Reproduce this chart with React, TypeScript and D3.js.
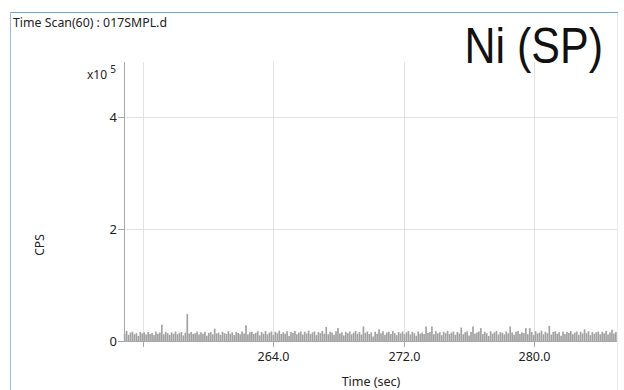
import React, { useEffect, useRef } from "react";
import * as d3 from "d3";

// time axis
const timeStart = 254.9;
const timeStep = 0.12;
const xTicks = [256, 264, 272, 280];
const xTickLabels = ["", "264.0", "272.0", "280.0"];
const yTicks = [0, 2e5, 4e5];
const yTickLabels = ["0", "2", "4"];

// counts per second, one per sweep
const cps = [
  13000, 18000, 11000, 15000, 16500, 12000, 14000, 9000, 16000, 13500, 15500, 11500,
  16000, 12500, 14500, 10500, 17000, 13000, 15000, 29000, 12000, 16500, 14000, 11000,
  15500, 13000, 17000, 12000, 14500, 16000, 10000, 15000, 48000, 13500, 16000, 12500,
  14000, 17000, 11500, 15500, 13000, 16500, 9500, 14500, 16000, 12000, 22000, 13500,
  15000, 11000, 16500, 14000, 12500, 17500, 13000, 15500, 10500, 16000, 14500, 12000,
  17000, 13500, 28000, 11500, 15500, 16500, 12500, 14500, 17500, 10000, 16000, 13000,
  18000, 12000, 15000, 17000, 11000, 16500, 14000, 18500, 12500, 15500, 13000, 17500,
  9000, 16000, 14500, 18000, 12000, 15000, 17000, 11500, 16500, 13500, 18500, 12500,
  15500, 17000, 10500, 16000, 14000, 18000, 13000, 25000, 12000, 16500, 15000, 11000,
  17500, 23000, 13500, 15500, 10000, 16500, 14000, 17000, 12000, 15000, 18000, 13000,
  16000, 11500, 26000, 14500, 17000, 12500, 15500, 8000, 16500, 13000, 21000, 14000,
  17500, 11000, 15000, 16500, 12500, 18000, 14000, 10500, 16000, 13500, 17000, 12000,
  15500, 18000, 11500, 16500, 14000, 9500, 17000, 13000, 15000, 12500, 26000, 14500,
  16000, 26000, 12000, 17500, 13500, 15500, 10500, 16500, 14000, 18000, 12500, 15000,
  17000, 11000, 16000, 13500, 24000, 12000, 15500, 17500, 10000, 16000, 26000, 13000,
  15000, 17000, 23000, 12500, 16500, 14000, 9000, 17500, 13000, 15500, 18000, 11500,
  16000, 14500, 12000, 17000, 13500, 26000, 15000, 11000, 16500, 18000, 12500, 15500,
  14000, 23000, 12000, 23000, 16000, 10500, 17500, 13500, 15000, 18500, 12000, 16500,
  14000, 27000, 11500, 16000, 17500, 13000, 15500, 9500, 17000, 12500, 16000, 14500,
  18000, 12000, 15000, 17000, 11000, 16500, 13500, 21000, 14000, 17500, 10500, 16000,
  13000, 15500, 17000, 12000, 16500, 14000, 18000, 11500, 15000, 20000, 13500, 16000,
];

const font = "'Noto Sans', 'Open Sans', sans-serif";

function App() {
  const ref = useRef<SVGSVGElement>(null);

  useEffect(() => {
    const width = 624;
    const height = 390;
    const left = 124;
    const right = 617;
    const top = 62;
    const bottom = 341;

    const svg = d3.select(ref.current);
    svg.selectAll("*").remove();
    svg.attr("width", width).attr("height", height);

    const data = cps.map((v, i) => ({ t: timeStart + i * timeStep, v }));

    const x = d3.scaleLinear().domain([254.86, 285.09]).range([left, right]);
    const y = d3.scaleLinear().domain([0, 4.98e5]).range([bottom, top]);

    // frame
    svg.append("line").attr("x1", 10).attr("x2", 618).attr("y1", 12.5).attr("y2", 12.5)
      .attr("stroke", "#6fa3d8").attr("stroke-width", 1);
    svg.append("line").attr("x1", 10.5).attr("x2", 10.5).attr("y1", 12).attr("y2", height)
      .attr("stroke", "#9dbde0").attr("stroke-width", 1);
    svg.append("line").attr("x1", 617.5).attr("x2", 617.5).attr("y1", 13).attr("y2", height)
      .attr("stroke", "#ececec").attr("stroke-width", 1);

    svg.append("text").attr("x", 13).attr("y", 27)
      .attr("font-family", font).attr("font-size", 12).attr("fill", "#222")
      .attr("textLength", 154).attr("lengthAdjust", "spacingAndGlyphs")
      .text("Time Scan(60) : 017SMPL.d");

    svg.append("text").attr("transform", "translate(603,63) scale(0.86,1)")
      .attr("text-anchor", "end")
      .attr("font-family", "'Liberation Sans', Arial, sans-serif").attr("font-size", 50).attr("fill", "#111")
      .text("Ni (SP)");

    // grid
    const grid = svg.append("g").attr("stroke", "#e2e2e2").attr("stroke-width", 1);
    grid.selectAll("line.v").data(xTicks).enter().append("line")
      .attr("x1", (d) => Math.round(x(d)) + 0.5).attr("x2", (d) => Math.round(x(d)) + 0.5)
      .attr("y1", top).attr("y2", bottom);
    grid.selectAll("line.h").data(yTicks.filter((d) => d > 0)).enter().append("line")
      .attr("x1", left).attr("x2", right)
      .attr("y1", (d) => Math.round(y(d)) + 0.5).attr("y2", (d) => Math.round(y(d)) + 0.5);

    // signal
    svg.append("g").selectAll("line").data(data).enter().append("line")
      .attr("x1", (d) => x(d.t)).attr("x2", (d) => x(d.t))
      .attr("y1", y(0)).attr("y2", (d) => y(d.v))
      .attr("stroke", "#a2a2a2").attr("stroke-width", 1.7);

    // axes
    const axisColor = "#a8a8a8";
    svg.append("line").attr("x1", left + 0.5).attr("x2", left + 0.5).attr("y1", top).attr("y2", bottom)
      .attr("stroke", axisColor);
    svg.append("line").attr("x1", left).attr("x2", right).attr("y1", bottom + 0.5).attr("y2", bottom + 0.5)
      .attr("stroke", axisColor);

    const yt = svg.append("g").selectAll("g").data(yTicks).enter().append("g")
      .attr("transform", (d) => `translate(0,${Math.round(y(d)) + 0.5})`);
    yt.append("line").attr("x1", left - 6).attr("x2", left).attr("stroke", axisColor);
    yt.append("text").attr("x", left - 7).attr("dy", "0.35em").attr("text-anchor", "end")
      .attr("font-family", font).attr("font-size", 13).attr("fill", "#222")
      .text((_, i) => yTickLabels[i]);

    const xt = svg.append("g").selectAll("g").data(xTicks).enter().append("g")
      .attr("transform", (d) => `translate(${Math.round(x(d)) + 0.5},0)`);
    xt.append("line").attr("y1", bottom).attr("y2", bottom + 6).attr("stroke", axisColor);
    xt.append("text").attr("y", 361).attr("text-anchor", "middle")
      .attr("font-family", font).attr("font-size", 12.5).attr("fill", "#222")
      .text((_, i) => xTickLabels[i]);

    const mult = svg.append("text").attr("x", 87).attr("y", 79)
      .attr("font-family", font).attr("font-size", 12).attr("fill", "#222");
    mult.append("tspan").text("x10 ");
    mult.append("tspan").attr("dy", -6).attr("font-size", 10).text("5");

    svg.append("text").attr("x", 371).attr("y", 386).attr("text-anchor", "middle")
      .attr("font-family", font).attr("font-size", 12.5).attr("fill", "#222")
      .text("Time (sec)");

    svg.append("text").attr("transform", "translate(44,245) rotate(-90)").attr("text-anchor", "middle")
      .attr("font-family", font).attr("font-size", 12).attr("fill", "#222")
      .text("CPS");
  }, []);

  return <svg ref={ref} style={{ position: "absolute", left: 0, top: 0 }} />;
}

export default App;
